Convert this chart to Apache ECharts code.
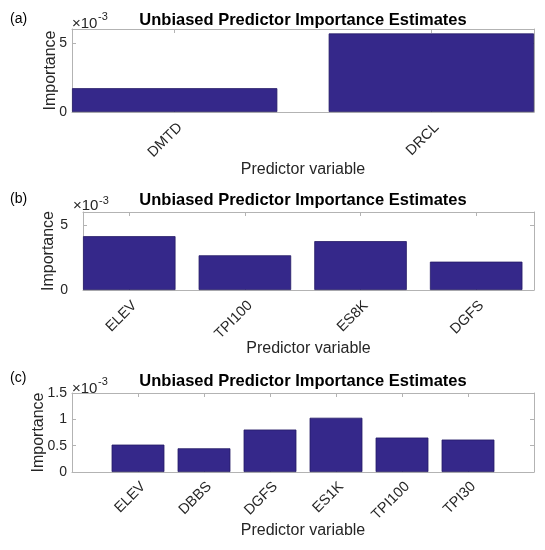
<!DOCTYPE html>
<html><head><meta charset="utf-8">
<script src="https://cdn.jsdelivr.net/npm/echarts@6/dist/echarts.min.js"></script>
<style>html,body{margin:0;padding:0;background:#fff}#c{width:545px;height:550px}</style>
</head><body><div id="c"></div>
<script>
// ---- data ----
const catsA = ['DMTD', 'DRCL'];
const valsA = [0.00172, 0.00568];
const catsB = ['ELEV', 'TPI100', 'ES8K', 'DGFS'];
const valsB = [0.00414, 0.00267, 0.00376, 0.00218];
const catsC = ['ELEV', 'DBBS', 'DGFS', 'ES1K', 'TPI100', 'TPI30'];
const valsC = [0.00052, 0.00045, 0.000806, 0.00103, 0.000654, 0.000616];
const yTicksAB = [0, 0.005];
const yTicksC = [0, 0.0005, 0.001, 0.0015];
const titleText = 'Unbiased Predictor Importance Estimates';
const xName = 'Predictor variable';
const yName = 'Importance';
const panelLabels = ['(a)', '(b)', '(c)'];
const expBase = '\u00d710';
const expPow = '-3';

// ---- layout / style ----
const FONT = '"Liberation Sans", Arial, Helvetica, sans-serif';
const BOX = '#b3b3b3';
const TXT = '#262626';
const BAR = '#35288a';
const BAR_EDGE = '#241a66';

const panels = [
  { cats: catsA, vals: valsA, yTicks: yTicksAB, ymax: 0.006, xmin: 0.6, xmax: 2.4,
    grid: { left: 72, top: 29, width: 462, height: 83 }, yGap: 13, yMargin: 5, xMargin: 8, xGap: 50,
    titleY: 12, labY: 12, expX: 72, expY: 16, powY: 11 },
  { cats: catsB, vals: valsB, yTicks: yTicksAB, ymax: 0.006, xmin: 0.6, xmax: 4.5,
    grid: { left: 83, top: 212, width: 451, height: 78 }, yGap: 26, yMargin: 15, xMargin: 8, xGap: 51,
    titleY: 192, labY: 192, expX: 73, expY: 198, powY: 195 },
  { cats: catsC, vals: valsC, yTicks: yTicksC, ymax: 0.0015, xmin: 0, xmax: 7,
    grid: { left: 72, top: 393, width: 462, height: 79 }, yGap: 25, yMargin: 5, xMargin: 7, xGap: 51,
    titleY: 373, labY: 371, expX: 72, expY: 381, powY: 376 }
];

const grid = [], xAxis = [], yAxis = [], series = [], graphic = [];
panels.forEach((p, i) => {
  grid.push(Object.assign({ containLabel: false }, p.grid));
  const xt = p.cats.map((c, k) => k + 1);
  const axLine = { show: true, onZero: false, lineStyle: { color: BOX, width: 1 } };
  const tick = (vals) => ({ show: true, inside: true, length: 4, customValues: vals, lineStyle: { color: BOX, width: 1 } });
  xAxis.push({
    gridIndex: i, type: 'value', min: p.xmin, max: p.xmax, position: 'bottom',
    axisLine: axLine, axisTick: tick(xt), splitLine: { show: false },
    axisLabel: { customValues: xt, formatter: v => p.cats[Math.round(v) - 1] || '',
      rotate: 45, fontSize: 14.5, color: TXT, fontFamily: FONT, margin: p.xMargin,
      align: 'right', verticalAlign: 'top' },
    name: xName, nameLocation: 'middle', nameGap: p.xGap, nameMoveOverlap: false,
    nameTextStyle: { fontSize: 16, color: TXT, fontFamily: FONT }
  });
  xAxis.push({
    gridIndex: i, type: 'value', min: p.xmin, max: p.xmax, position: 'top',
    axisLine: axLine, axisTick: tick(xt), axisLabel: { show: false }, splitLine: { show: false }
  });
  yAxis.push({
    gridIndex: i, type: 'value', min: 0, max: p.ymax, position: 'left',
    axisLine: axLine, axisTick: tick(p.yTicks), splitLine: { show: false },
    axisLabel: { customValues: p.yTicks, formatter: v => String(+(v * 1000).toFixed(1)),
      fontSize: 14, color: TXT, fontFamily: FONT, margin: p.yMargin },
    name: yName, nameLocation: 'middle', nameGap: p.yGap, nameMoveOverlap: false,
    nameTextStyle: { fontSize: 16, color: TXT, fontFamily: FONT }
  });
  yAxis.push({
    gridIndex: i, type: 'value', min: 0, max: p.ymax, position: 'right',
    axisLine: axLine, axisTick: tick(p.yTicks), axisLabel: { show: false }, splitLine: { show: false }
  });
  series.push({
    type: 'bar', xAxisIndex: 2 * i, yAxisIndex: 2 * i,
    data: p.vals.map((v, k) => [k + 1, v]),
    barWidth: p.grid.width / (p.xmax - p.xmin) * 0.8,
    itemStyle: { color: BAR, borderColor: BAR_EDGE, borderWidth: 0.8 },
    silent: true, z: 1
  });
  graphic.push({ type: 'text', x: 303, y: p.titleY,
    style: { text: titleText, fill: '#000', font: 'bold 16.5px ' + FONT, align: 'center', verticalAlign: 'top' } });
  graphic.push({ type: 'text', x: 10, y: p.labY,
    style: { text: panelLabels[i], fill: '#000', font: '14px ' + FONT, align: 'left', verticalAlign: 'top' } });
  graphic.push({ type: 'text', x: p.expX, y: p.expY,
    style: { text: expBase, fill: TXT, font: '15px ' + FONT, align: 'left', verticalAlign: 'top' } });
  graphic.push({ type: 'text', x: p.expX + 26, y: p.powY,
    style: { text: expPow, fill: TXT, font: '11px ' + FONT, align: 'left', verticalAlign: 'top' } });
});

const chart = echarts.init(document.getElementById('c'), null, { renderer: 'canvas' });
chart.setOption({ animation: false, backgroundColor: '#fff', grid, xAxis, yAxis, series, graphic });
</script>
</body></html>
